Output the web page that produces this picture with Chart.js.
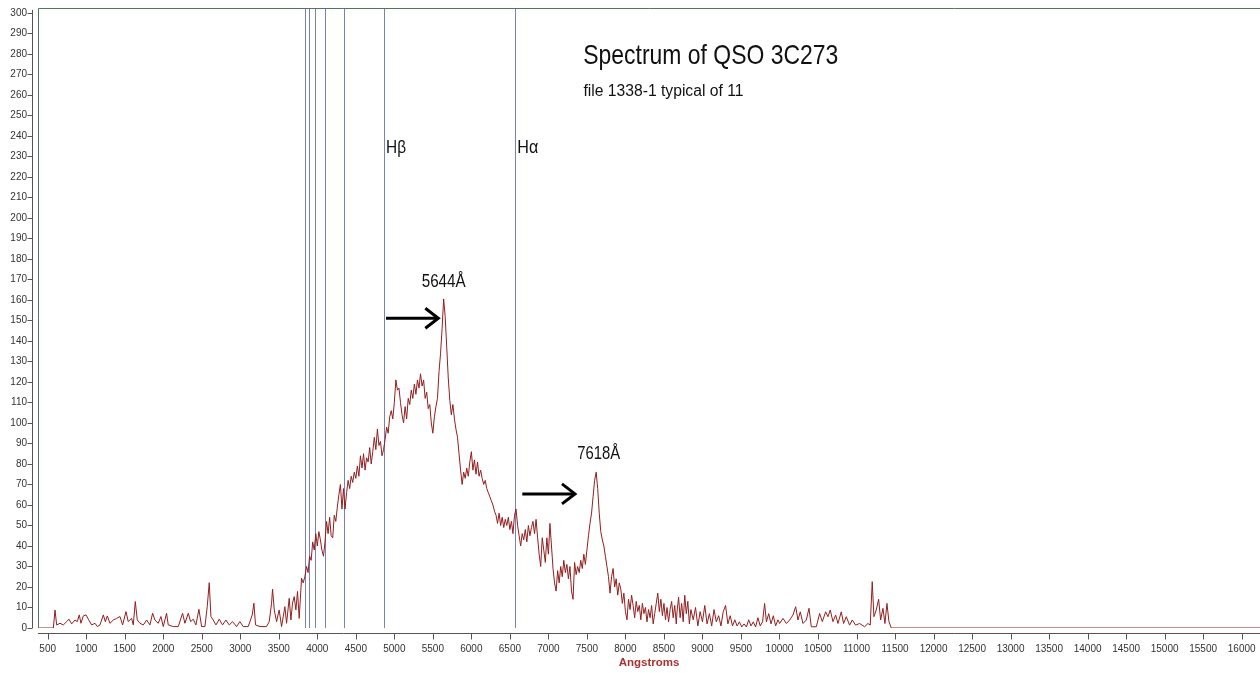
<!DOCTYPE html>
<html>
<head>
<meta charset="utf-8">
<script src="https://cdn.jsdelivr.net/npm/chart.js@4.4.1/dist/chart.umd.min.js"></script>
<style>
    html, body { margin: 0; padding: 0; background: #fff; overflow: hidden; }
    canvas { display: block; }
</style>
</head>
<body>
<canvas id="spectrum" width="1260" height="673"></canvas>
<script>
// wavelength (Angstroms) and relative flux
var wavelength = [374, 573, 595, 616, 660, 703, 746, 776, 811, 854, 884, 910, 932, 962, 997, 1027, 1070, 1114, 1144, 1179,
    1222, 1248, 1274, 1308, 1352, 1395, 1438, 1473, 1516, 1546, 1589, 1611, 1637, 1663, 1698, 1741, 1784, 1827, 1862, 1892,
    1935, 1970, 2000, 2043, 2065, 2130, 2195, 2251, 2281, 2325, 2355, 2389, 2424, 2463, 2498, 2541, 2571, 2597, 2619, 2649,
    2684, 2727, 2770, 2813, 2857, 2900, 2952, 2995, 3038, 3103, 3133, 3155, 3177, 3198, 3255, 3341, 3376, 3406, 3419, 3441,
    3471, 3505, 3536, 3579, 3601, 3635, 3657, 3678, 3700, 3722, 3743, 3765, 3795, 3817, 3838, 3860, 3880,
    3900, 3920, 3940, 3960, 3980, 4000, 4020, 4040, 4060, 4080, 4100, 4120, 4140, 4160, 4180, 4200, 4220, 4240, 4260, 4280,
    4300, 4320, 4340, 4360, 4380, 4400, 4420, 4440, 4460, 4480, 4500, 4520, 4540, 4560, 4580, 4600, 4620, 4640, 4660, 4680,
    4700, 4720, 4740, 4760, 4780, 4800, 4820, 4840, 4860, 4880, 4900, 4920, 4940, 4960, 4980, 5000, 5020, 5040, 5060, 5080,
    5100, 5120, 5140, 5160, 5180, 5200, 5220, 5240, 5260, 5280, 5300, 5320, 5340, 5360, 5380, 5400, 5420, 5440, 5460, 5480,
    5500, 5520, 5540, 5560, 5580, 5600, 5620, 5640, 5660, 5680, 5700, 5720, 5740, 5760, 5780, 5800, 5820, 5840, 5860, 5880,
    5900, 5920, 5940, 5960, 5980, 6000, 6020, 6040, 6060, 6080, 6100, 6120, 6140, 6160, 6180, 6200, 6220, 6240, 6260, 6280,
    6300, 6320, 6340, 6360, 6380, 6400, 6420, 6440, 6460, 6480, 6500, 6520, 6540, 6560, 6580, 6600, 6620, 6640, 6660, 6680,
    6700, 6720, 6740, 6760, 6780, 6800, 6820, 6840, 6860, 6880, 6900, 6920, 6940, 6960, 6980, 7000, 7020, 7040, 7060, 7080,
    7100, 7120, 7140, 7160, 7180, 7200, 7220, 7240, 7260, 7280, 7300, 7320, 7340, 7360, 7380, 7400, 7420, 7440, 7460, 7480,
    7500, 7520, 7540, 7560, 7580, 7600, 7620, 7640, 7660, 7680, 7700, 7720, 7740, 7760, 7780, 7800, 7820, 7840, 7860, 7880,
    7900, 7920, 7940, 7960, 7980, 8000, 8020, 8040, 8060, 8080, 8100, 8120, 8140, 8160, 8180, 8200, 8220, 8240, 8260, 8280,
    8300, 8320, 8340, 8360, 8380, 8400, 8420, 8440, 8460, 8480, 8500, 8520, 8540, 8560, 8580, 8600, 8620, 8640, 8660,
    8670, 8690, 8710, 8730, 8750, 8770, 8790, 8810, 8830, 8850, 8880, 8910, 8940, 8970, 9000, 9030, 9060, 9090, 9120, 9150,
    9180, 9210, 9240, 9270, 9300, 9330, 9360, 9390, 9420, 9450, 9480, 9510, 9540, 9570, 9600, 9630, 9660, 9690, 9720, 9750,
    9780, 9807, 9830, 9860, 9890, 9920, 9950, 9980,
    10002, 10045, 10089, 10132, 10175, 10210, 10240, 10270, 10305, 10348, 10383, 10413, 10478, 10521, 10556, 10599, 10629,
    10659, 10694, 10729, 10759, 10802, 10832, 10867, 10910, 10945, 10988, 11040, 11105, 11148, 11178, 11204, 11226, 11256,
    11287, 11313, 11343, 11369, 11395, 11421, 11451, 16238];
var flux = [0, 0, 8.8, 1.5, 2.3, 1.5, 3.1, 4.3, 2, 3.9, 3.1, 6.4, 2.3, 5.9, 6.4, 4.3, 1.5, 2.3, 0.7, 1.5,
    6.4, 3.1, 5.9, 2.3, 3.9, 4.7, 5.6, 1.5, 8, 3.1, 4.7, 1.5, 12.9, 3.9, 2.3, 1.5, 3.9, 1.5, 7.2, 3.9,
    2.3, 5.6, 0.7, 7.2, 1.5, 0.7, 0.7, 7.2, 2.3, 7.2, 3.1, 4.3, 1.5, 9.1, 0.7, 0.7, 10.4, 22.1, 5.6, 3.9,
    1.5, 4.3, 1.5, 3.9, 1.5, 3.1, 0.7, 3.1, 0.7, 0.7, 3.9, 6.4, 12.1, 1.5, 0.7, 0.7, 3.1, 12.1, 18.9, 8.8,
    3.1, 8.8, 0.7, 10.4, 2.3, 14.5, 3.9, 12.1, 15.3, 8.8, 17.8, 4.7, 24.3, 22, 25, 30, 27,
    35, 33, 42, 38, 46, 40, 47, 43, 38, 35, 42, 52, 46, 54, 45, 44, 55, 52, 59, 65,
    70, 58, 68, 58, 66, 72, 68, 74, 71, 76, 73, 79, 74, 84, 78, 85, 77, 83, 81, 88,
    80, 86, 93, 87, 97, 89, 91, 84, 87, 92, 98, 95, 103, 106, 102, 110, 121, 116, 117, 110,
    104, 100, 108, 102, 112, 109, 116, 112, 119, 114, 121, 117, 124, 118, 121, 112, 115, 107, 109, 100,
    95, 103, 108, 112, 125, 134, 146, 160.5, 152, 137, 122, 111, 104, 109, 102, 97, 93, 85, 77, 70,
    76, 73, 78, 74, 81, 86, 77, 82, 75, 81, 74, 77, 73, 70, 72, 68, 66, 64, 62, 60,
    57, 55, 51, 56, 50, 54, 49, 53, 50, 54, 48, 52, 46, 55, 58, 50, 45, 40, 46, 43,
    48, 42, 50, 45, 49, 52, 46, 53, 44, 36, 30, 44, 38, 32, 44, 36, 51, 40, 29, 22,
    18, 28, 22, 30, 25, 33, 27, 31, 24, 30, 18, 14, 32, 26, 30, 27, 33, 29, 36, 31,
    38, 45, 51, 56, 64, 72, 76, 68, 56, 47, 43, 40, 35, 30, 25, 17, 25, 29, 20, 24,
    16, 22, 19, 12, 17, 8, 4, 14, 9, 16, 11, 5, 13, 8, 11, 4, 12, 7, 10, 3,
    9, 5, 11, 2, 7, 12, 17, 8, 14, 6, 12, 4, 10, 3, 9, 13, 5, 11, 2,
    8, 15, 5, 12, 3, 16, 7, 13, 2, 9, 4, 10, 1, 8, 3, 11, 2, 7, 1, 9,
    3, 6, 1, 8, 11, 2, 6, 1, 4, 1, 3, 0.5, 2, 0.5, 4, 1, 3, 0.5, 5, 1,
    3, 12, 3, 7, 2, 6, 1, 4,
    2.2, 4.7, 2.2, 3.9, 6.3, 10.4, 3.9, 7.9, 2.2, 3.9, 9.6, 0.6, 0.6, 7.1, 3.1, 7.9, 5.5,
    8.8, 3.1, 6.3, 2.2, 7.9, 2.2, 5.5, 1.4, 3.9, 1.4, 2.2, 0.6, 2.2, 1.4, 22.6, 5.5, 8.8,
    14, 3.9, 9.6, 2.2, 12, 3.1, 0, 0];
// Balmer series marks: H9, H8, He, Hd, Hg, Hb, Ha
var balmer_lines = [3835, 3889, 3970, 4102, 4340, 4861, 6563];
var x_ticks = [500, 1000, 1500, 2000, 2500, 3000, 3500, 4000, 4500, 5000, 5500, 6000, 6500, 7000, 7500, 8000,
    8500, 9000, 9500, 10000, 10500, 11000, 11500, 12000, 12500, 13000, 13500, 14000, 14500, 15000, 15500, 16000];
var y_ticks = [0, 10, 20, 30, 40, 50, 60, 70, 80, 90, 100, 110, 120, 130, 140, 150, 160, 170, 180, 190, 200,
    210, 220, 230, 240, 250, 260, 270, 280, 290, 300];

var font_family = '"Liberation Sans", Arial, sans-serif';
Chart.defaults.font.family = font_family;

// squeezed text, the original screenshot is a bit narrow
function fit_text(ctx, txt, x, y, size, width) {
    ctx.font = size + 'px ' + font_family;
    let w = ctx.measureText(txt).width;
    ctx.save();
    ctx.translate(x, y);
    ctx.scale(width / w, 1);
    ctx.textAlign = 'left';
    ctx.textBaseline = 'alphabetic';
    ctx.fillStyle = '#111';
    ctx.fillText(txt, 0, 0);
    ctx.restore();
}

function arrow(ctx, x1, x2, y) {
    ctx.save();
    ctx.strokeStyle = '#000';
    ctx.lineWidth = 3;
    ctx.beginPath();
    ctx.moveTo(x1, y);
    ctx.lineTo(x2 - 1, y);
    ctx.stroke();
    ctx.beginPath();
    ctx.moveTo(x2 - 13, y - 10);
    ctx.lineTo(x2, y);
    ctx.lineTo(x2 - 13, y + 10);
    ctx.stroke();
    ctx.restore();
}

var decor = {
    id: 'decor',
    beforeDatasetsDraw(chart) {
        let ctx = chart.ctx, xs = chart.scales.x, area = chart.chartArea;
        ctx.save();
        ctx.strokeStyle = '#7a80b8';
        ctx.lineWidth = 1;
        balmer_lines.forEach((l) => {
            let px = Math.round(xs.getPixelForValue(l)) + 0.5;
            ctx.beginPath();
            ctx.moveTo(px, area.top);
            ctx.lineTo(px, area.bottom);
            ctx.stroke();
        });
        ctx.restore();
    },
    afterDraw(chart) {
        let ctx = chart.ctx, xs = chart.scales.x, ys = chart.scales.y, area = chart.chartArea;
        ctx.save();
        // plot frame
        ctx.strokeStyle = '#4d7a55';
        ctx.lineWidth = 1;
        ctx.beginPath();
        ctx.moveTo(area.left + 0.5, area.bottom);
        ctx.lineTo(area.left + 0.5, area.top + 0.5);
        ctx.lineTo(area.right, area.top + 0.5);
        ctx.stroke();
        // offset axes
        ctx.strokeStyle = '#555';
        let ax = area.left - 5.5;
        let ay = area.bottom + 5.5;
        ctx.beginPath();
        ctx.moveTo(ax, ys.getPixelForValue(300) - 3);
        ctx.lineTo(ax, ys.getPixelForValue(0));
        ctx.moveTo(area.left, ay);
        ctx.lineTo(area.right, ay);
        y_ticks.forEach((v) => {
            let py = Math.round(ys.getPixelForValue(v)) + 0.5;
            ctx.moveTo(ax - 5, py);
            ctx.lineTo(ax, py);
        });
        x_ticks.forEach((v) => {
            let px = Math.round(xs.getPixelForValue(v)) + 0.5;
            ctx.moveTo(px, ay);
            ctx.lineTo(px, ay + 6);
        });
        ctx.stroke();
        ctx.restore();

        let X = (v) => xs.getPixelForValue(v);
        let Y = (v) => ys.getPixelForValue(v);
        fit_text(ctx, 'Spectrum of QSO 3C273', X(7453), Y(274.9), 28, 255);
        fit_text(ctx, 'file 1338-1 typical of 11', X(7455), Y(259.6), 16, 160);
        fit_text(ctx, 'H\u03b2', X(4892), Y(231.6), 19, 20);
        fit_text(ctx, 'H\u03b1', X(6596), Y(231.6), 19, 21);
        fit_text(ctx, '5644\u00c5', X(5355), Y(166.5), 19, 44);
        fit_text(ctx, '7618\u00c5', X(7375), Y(82.3), 19, 43);
        arrow(ctx, X(4892), X(5571), Y(151.1));
        arrow(ctx, X(6661), X(7345), Y(65.4));
    }
};

var points = wavelength.map((w, i) => ({ x: w, y: flux[i] }));

var chart = new Chart(document.getElementById('spectrum'), {
    type: 'line',
    data: {
        datasets: [
            {
                label: '3C273',
                data: points,
                borderColor: '#931e1e',
                borderWidth: 1,
                pointRadius: 0,
                tension: 0,
                fill: false
            }
        ]
    },
    options: {
        responsive: false,
        animation: false,
        layout: { padding: { top: 8, left: 0, right: 0, bottom: 0 } },
        plugins: {
            legend: { display: false },
            tooltip: { enabled: false }
        },
        scales: {
            x: {
                type: 'linear',
                min: 374,
                max: 16238,
                grid: { display: false, drawTicks: false },
                border: { display: false },
                afterBuildTicks: (s) => { s.ticks = x_ticks.map((v) => ({ value: v })); },
                afterFit: (s) => { s.height = 45; s.paddingLeft = 0; s.paddingRight = 0; },
                ticks: {
                    color: '#333', font: { size: 10 }, padding: 15, maxRotation: 0, autoSkip: false,
                    callback: (v) => String(v)
                },
                title: {
                    display: true,
                    text: 'Angstroms',
                    color: '#a83232',
                    font: { size: 11.5, weight: 'bold' },
                    padding: { top: 0, bottom: 3 }
                }
            },
            y: {
                min: 0,
                max: 302.4,
                grid: { display: false, drawTicks: false },
                border: { display: false },
                afterBuildTicks: (s) => { s.ticks = y_ticks.map((v) => ({ value: v })); },
                afterFit: (s) => { s.width = 38; s.paddingTop = 0; s.paddingBottom = 0; },
                ticks: { color: '#333', font: { size: 10 }, padding: 11, autoSkip: false, callback: (v) => String(v) }
            }
        }
    },
    plugins: [decor]
});
</script>
</body>
</html>
